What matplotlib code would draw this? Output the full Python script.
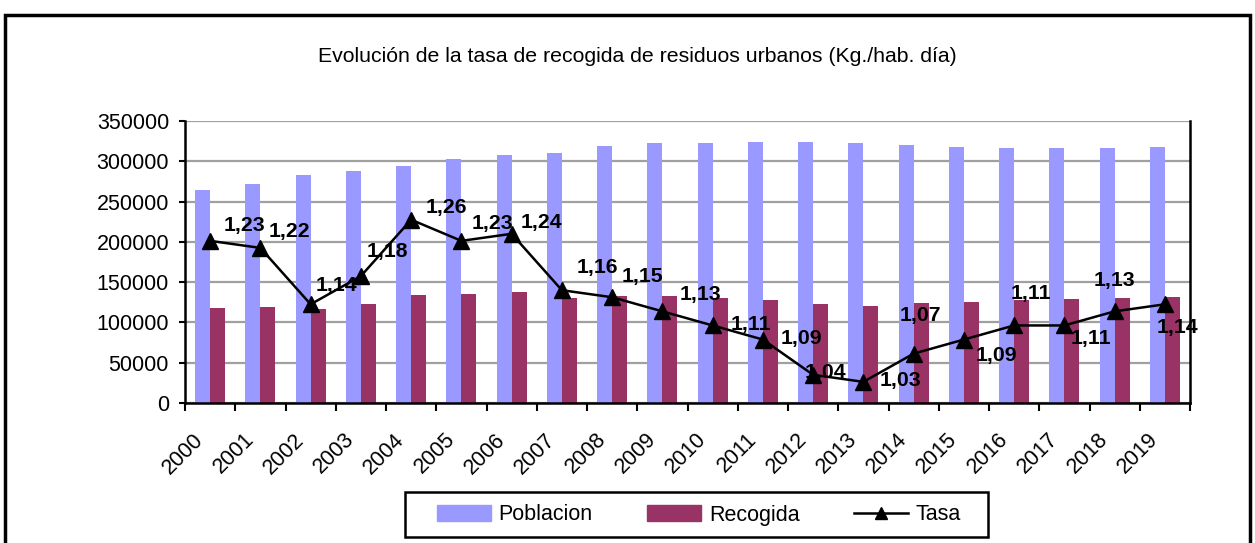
import numpy as np
import matplotlib
matplotlib.use('Agg')
import matplotlib.pyplot as plt
from matplotlib.patches import Rectangle
from matplotlib.lines import Line2D
from matplotlib.transforms import ScaledTranslation

plt.rcParams['font.family'] = ['Liberation Sans', 'DejaVu Sans']

years = [str(y) for y in range(2000, 2020)]
poblacion = [263800, 271300, 282500, 287500, 293700, 302400, 307300, 309800, 318500, 322200,
             322200, 323500, 323500, 322200, 319800, 317300, 316000, 316000, 316000, 317300]
recogida = [118500, 119700, 117200, 123400, 134600, 135900, 138300, 130900, 133400, 133400,
            130900, 128400, 123400, 120900, 124700, 125900, 128400, 129600, 130900, 132100]
tasa = [1.23, 1.22, 1.14, 1.18, 1.26, 1.23, 1.24, 1.16, 1.15, 1.13,
        1.11, 1.09, 1.04, 1.03, 1.07, 1.09, 1.11, 1.11, 1.13, 1.14]

# label offsets in pixels (dx, dy up)
label_off = [(34, 15), (29, 16), (26, 19), (26, 25), (35, 12), (31, 17), (30, 11), (35, 23),
             (30, 21), (38, 17), (38, 1), (39, 1), (12, 2), (37, 1), (7, 38), (33, -16),
             (17, 32), (27, -13), (0, 31), (13, -23)]

fig = plt.figure(figsize=(12.55, 5.43), dpi=100)
ax = fig.add_axes([185/1255, 1-403/543, 1005/1255, 282/543])

x = np.arange(len(years))
w = 0.3
ax.bar(x - w/2, poblacion, w, color='#9999FF', label='Poblacion', zorder=2)
ax.bar(x + w/2, recogida, w, color='#993366', label='Recogida', zorder=2)

ax.set_xlim(-0.5, len(years) - 0.5)
ax.set_ylim(0, 350000)
ax.set_yticks(np.arange(0, 350001, 50000))
ax.yaxis.grid(True, color='#a0a0a0', lw=1.6, zorder=0)
ax.set_axisbelow(True)
ax.tick_params(axis='y', labelsize=15.5, length=4.5, width=1.5, direction='out', pad=7)

ax.set_xticks(np.arange(-0.5, len(years), 1))
ax.set_xticklabels([])
ax.tick_params(axis='x', which='major', length=6, width=1.5, direction='out')
ax.set_xticks(x, minor=True)
ax.set_xticklabels(years, minor=True, rotation=45, ha='right', va='top',
                   rotation_mode='anchor', fontsize=15.5)
ax.tick_params(axis='x', which='minor', length=0, pad=8)
shift = ScaledTranslation(-0.17, -0.15, fig.dpi_scale_trans)
for lbl in ax.get_xticklabels(minor=True):
    lbl.set_transform(lbl.get_transform() + shift)

for s in ['left', 'bottom']:
    ax.spines[s].set_linewidth(1.8)
ax.spines['top'].set_visible(False)
ax.spines['right'].set_visible(False)

ax2 = ax.twinx()
ax2.set_ylim(1.0, 1.4)
ax2.set_yticks([])
ax2.spines['top'].set_visible(False)
ax2.spines['left'].set_visible(False)
ax2.spines['bottom'].set_visible(False)
ax2.spines['right'].set_linewidth(1.8)
ax2.plot(x, tasa, color='black', lw=1.8, marker='^', markersize=12, zorder=3)

for i, v in enumerate(tasa):
    ax2.annotate(f"{v:.2f}".replace('.', ','), (i, v), xytext=label_off[i],
                 textcoords='offset pixels', ha='center', va='center',
                 fontsize=15.3, fontweight='bold')

fig.text(0.5076, 1-57/543, 'Evolución de la tasa de recogida de residuos urbanos (Kg./hab. día)',
         ha='center', va='center', fontsize=15.3)

handles = [Rectangle((0, 0), 1, 1, color='#9999FF'), Rectangle((0, 0), 1, 1, color='#993366'),
           Line2D([], [], color='black', lw=1.8, marker='^', markersize=8)]
leg = fig.legend(handles, ['Poblacion', 'Recogida', 'Tasa'], loc='center',
                 bbox_to_anchor=(699/1255, 1-515/543), ncol=3, fontsize=15.5,
                 frameon=False, handlelength=2.5, handleheight=0.7, handletextpad=0.35,
                 columnspacing=2.55)
fig.add_artist(Rectangle((405/1255, 1-537/543), 583/1255, 45/543, transform=fig.transFigure,
                         fill=False, lw=1.8, edgecolor='black'))

fig.add_artist(Rectangle((5/1255, -0.1), 1245/1255, 1.1 - 15/543, transform=fig.transFigure,
                         fill=False, lw=2.5, edgecolor='black', clip_on=False))

fig.savefig('out.png', dpi=100)
